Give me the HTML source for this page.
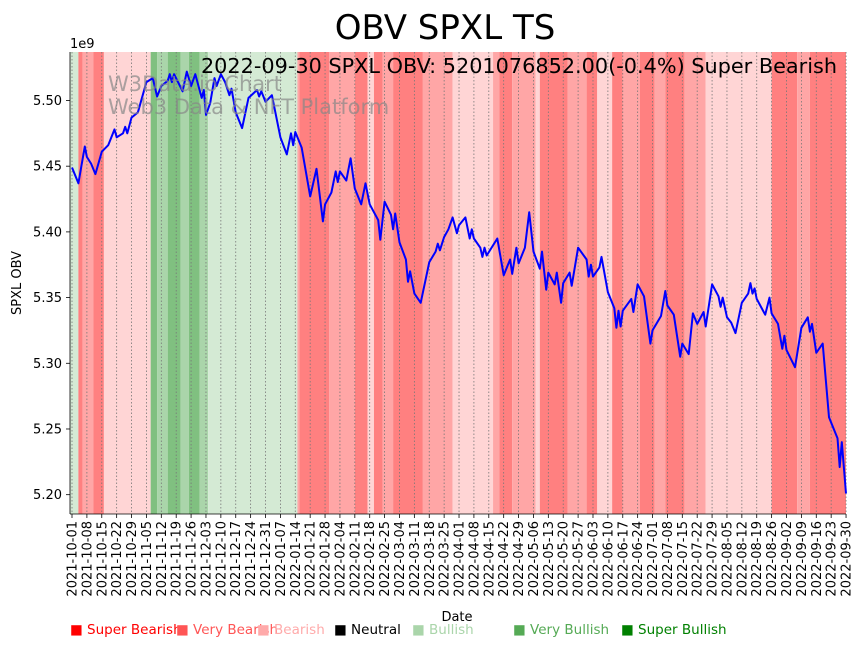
<!DOCTYPE html>
<html><head><meta charset="utf-8"><style>
body{margin:0;background:#fff;}
svg{display:block;font-family:"DejaVu Sans","Liberation Sans",sans-serif;}
</style></head><body>
<svg id="chart" width="861" height="646" viewBox="0 0 861 646" xmlns="http://www.w3.org/2000/svg">
<text x="445" y="39" font-size="34" text-anchor="middle">OBV SPXL TS</text>
<g id="bands"></g>
<g id="grid"></g>
<g id="series"></g>
<text x="108" y="91" font-size="21" fill="#888" fill-opacity="0.7">W3Data.io Chart</text>
<text x="108" y="114" font-size="21" fill="#888" fill-opacity="0.7">Web3 Data &amp; NFT Platform</text>
<text x="837" y="73" font-size="20.8" text-anchor="end">2022-09-30 SPXL OBV: 5201076852.00(-0.4%) Super Bearish</text>
<g id="axes"></g>
<text x="70" y="48" font-size="13">1e9</text>
<text transform="translate(21,283) rotate(-90)" font-size="13" text-anchor="middle">SPXL OBV</text>
<text x="457" y="621" font-size="13" text-anchor="middle">Date</text>
<g id="legend"></g>
</svg>
<script>
const bandStarts=[-1,3,5,10,15,37,40,45,51,55,60,64,106,107,121,133,139,142,146,151,165,179,198,201,207,218,220,233,242,247,254,259,267,274,279,288,298,329,341,347];
const bandEnds=[3,5,10,15,37,40,45,51,55,60,64,106,107,121,133,139,142,146,151,165,179,198,201,207,218,220,233,242,247,254,259,267,274,279,288,298,329,341,347,365];
const bandLevels=[1,-3,-2,-3,-1,3,2,3,2,3,2,1,-2,-3,-2,-3,-1,-3,-2,-3,-2,-1,-2,-3,-2,-1,-3,-2,-3,-1,-3,-2,-3,-2,-3,-2,-1,-3,-2,-3];
const days=[0,3,6,7,9,11,14,17,20,21,24,25,26,28,31,35,38,40,42,45,46,47,48,52,54,56,58,61,62,63,65,67,68,70,72,74,75,77,80,83,87,88,89,91,94,98,101,103,104,105,108,112,115,118,119,122,124,125,126,129,131,133,136,138,140,144,145,147,150,151,152,154,157,158,159,161,164,168,171,172,173,175,177,179,181,182,185,187,188,189,192,193,194,195,200,203,206,207,209,210,213,215,217,220,221,223,224,227,228,230,231,234,235,238,242,243,244,245,248,249,252,255,256,257,258,259,263,264,266,269,272,273,277,279,280,283,286,287,290,292,294,297,298,301,304,305,306,308,310,312,315,318,319,320,321,322,326,328,329,332,334,335,336,340,343,346,347,348,350,353,356,360,361,362,364];
const obvValues=[5.449,5.437,5.465,5.457,5.452,5.444,5.461,5.466,5.478,5.472,5.475,5.480,5.475,5.487,5.491,5.514,5.517,5.503,5.511,5.515,5.520,5.514,5.520,5.507,5.522,5.511,5.520,5.502,5.508,5.489,5.498,5.517,5.511,5.520,5.514,5.504,5.509,5.491,5.479,5.502,5.508,5.503,5.507,5.499,5.504,5.472,5.459,5.475,5.466,5.476,5.464,5.427,5.448,5.408,5.421,5.430,5.446,5.438,5.446,5.439,5.456,5.433,5.421,5.437,5.421,5.409,5.394,5.423,5.413,5.402,5.414,5.392,5.379,5.362,5.370,5.353,5.346,5.377,5.385,5.391,5.386,5.396,5.402,5.411,5.399,5.405,5.411,5.395,5.402,5.395,5.388,5.381,5.388,5.382,5.395,5.367,5.379,5.368,5.388,5.376,5.388,5.415,5.385,5.372,5.385,5.356,5.369,5.360,5.369,5.346,5.361,5.369,5.359,5.388,5.379,5.366,5.375,5.366,5.373,5.381,5.354,5.342,5.327,5.340,5.328,5.340,5.349,5.339,5.360,5.351,5.315,5.325,5.336,5.355,5.344,5.337,5.305,5.315,5.307,5.338,5.330,5.339,5.328,5.360,5.351,5.343,5.350,5.335,5.331,5.323,5.346,5.353,5.361,5.353,5.357,5.349,5.337,5.350,5.338,5.330,5.311,5.321,5.310,5.297,5.327,5.335,5.324,5.330,5.308,5.315,5.259,5.243,5.221,5.240,5.201];
const yTicks=[5.20,5.25,5.30,5.35,5.40,5.45,5.50];
const tickLabels=["2021-10-01","2021-10-08","2021-10-15","2021-10-22","2021-10-29","2021-11-05","2021-11-12","2021-11-19","2021-11-26","2021-12-03","2021-12-10","2021-12-17","2021-12-24","2021-12-31","2022-01-07","2022-01-14","2022-01-21","2022-01-28","2022-02-04","2022-02-11","2022-02-18","2022-02-25","2022-03-04","2022-03-11","2022-03-18","2022-03-25","2022-04-01","2022-04-08","2022-04-15","2022-04-22","2022-04-29","2022-05-06","2022-05-13","2022-05-20","2022-05-27","2022-06-03","2022-06-10","2022-06-17","2022-06-24","2022-07-01","2022-07-08","2022-07-15","2022-07-22","2022-07-29","2022-08-05","2022-08-12","2022-08-19","2022-08-26","2022-09-02","2022-09-09","2022-09-16","2022-09-23","2022-09-30"];
const legendLabels=["Super Bearish","Very Bearish","Bearish","Neutral","Bullish","Very Bullish","Super Bullish"];
const legendColors=["#ff0000","#ff5555","#ffaaaa","#000000","#aad5aa","#55aa55","#008000"];

const NS="http://www.w3.org/2000/svg";
const X0=72,PXD=2.1265,TOP=52,BOT=514,LEFT=70,RIGHT=846;
const VMIN=5.1853,VMAX=5.5369;
const xs=d=>X0+d*PXD;
const ys=v=>BOT-(v-VMIN)/(VMAX-VMIN)*(BOT-TOP);
const bandColor={"-3":"#ff8080","-2":"#ffa6a6","-1":"#ffd5d5","0":"#ffffff","1":"#d4ead4","2":"#aad5aa","3":"#80c080"};
function mk(t,a,p){const e=document.createElementNS(NS,t);for(const k in a)e.setAttribute(k,a[k]);p.appendChild(e);return e;}

const bg=document.getElementById('bands');
for(let i=0;i<bandStarts.length;i++){
  const x1=Math.max(LEFT,xs(bandStarts[i])),x2=Math.min(RIGHT,xs(bandEnds[i]));
  const r=mk('rect',{x:x1,y:TOP,width:x2-x1,height:BOT-TOP,fill:bandColor[bandLevels[i]]},bg);
  
  
}
const gg=document.getElementById('grid');
const ax=document.getElementById('axes');
tickLabels.forEach((lab,i)=>{
  const x=xs(i*7);
  const l=mk('line',{x1:x,x2:x,y1:TOP,y2:BOT,stroke:'#777','stroke-width':0.8,'stroke-dasharray':'1.5,2'},gg);
  
  
  const t=mk('line',{x1:x,x2:x,y1:BOT,y2:BOT+4,stroke:'#000','stroke-width':0.8},ax);
  
  
  const tx=mk('text',{transform:`translate(${x+4.5},${BOT+7}) rotate(-90)`,'font-size':13,'text-anchor':'end'},ax);
  tx.textContent=lab;
  
  
});
yTicks.forEach(v=>{
  const y=ys(v);
  const t=mk('line',{x1:LEFT-4,x2:LEFT,y1:y,y2:y,stroke:'#000','stroke-width':0.8},ax);
  
  
  const tx=mk('text',{x:LEFT-8,y:y+4.5,'font-size':13,'text-anchor':'end'},ax);
  tx.textContent=v.toFixed(2);
  
  
});
const sl=mk('line',{x1:LEFT,x2:LEFT,y1:TOP,y2:BOT,stroke:'#000','stroke-width':0.8},ax);


const sb=mk('line',{x1:LEFT,x2:RIGHT,y1:BOT,y2:BOT,stroke:'#000','stroke-width':0.8},ax);



const pts=days.map((d,i)=>xs(d).toFixed(1)+','+ys(obvValues[i]).toFixed(1)).join(' ');
const pl=mk('polyline',{points:pts,fill:'none',stroke:'#0000ff','stroke-width':2,'stroke-linejoin':'round'},document.getElementById('series'));



const lg=document.getElementById('legend');
const lx=[70,176,257,334,412,513,621];
legendLabels.forEach((lab,i)=>{
  const t=mk('text',{x:lx[i],y:634,'font-size':13.5,fill:legendColors[i]},lg);
  t.textContent='\u25A0 '+lab;
  
  
});
</script>
</body></html>
